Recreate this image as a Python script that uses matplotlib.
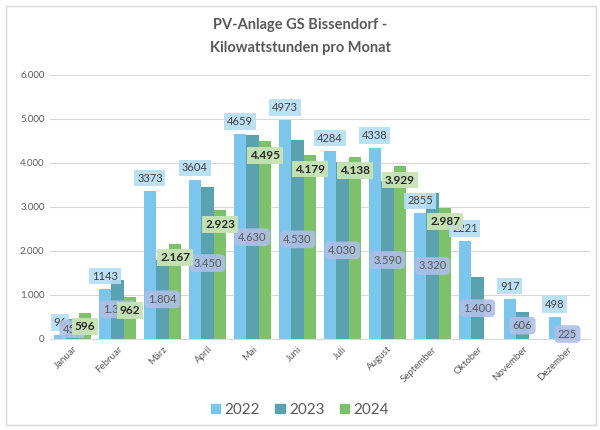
import matplotlib
matplotlib.use("Agg")
import matplotlib.pyplot as plt
import numpy as np
from matplotlib.patches import Rectangle, Patch

plt.rcParams['font.family'] = ['Lato', 'DejaVu Sans']

months = ['Januar', 'Februar', 'März', 'April', 'Mai', 'Juni', 'Juli',
          'August', 'September', 'Oktober', 'November', 'Dezember']
y2022 = [96, 1143, 3373, 3604, 4659, 4973, 4284, 4338, 2855, 2221, 917, 498]
y2023 = [450, 1350, 1804, 3450, 4630, 4530, 4030, 3590, 3320, 1400, 606, 225]
y2024 = [596, 962, 2167, 2923, 4495, 4179, 4138, 3929, 2987, None, None, None]
yticks = [0, 1000, 2000, 3000, 4000, 5000, 6000]

c22 = '#7CC6EE'
c23 = '#5BA2B0'
c24 = '#7DC16B'
grey = '#595959'


def de(v):
    # german thousands separator
    return f'{v:,}'.replace(',', '.')


fig = plt.figure(figsize=(6, 4.3), dpi=100)
ax = fig.add_axes([50 / 600, 1 - 339 / 430, 540 / 600, 264 / 430])

# chart border
fig.patches.append(Rectangle((6 / 600, 5 / 430), 590 / 600, 419 / 430,
                             transform=fig.transFigure, fill=False,
                             edgecolor='#D9D9D9', lw=1))

x = np.arange(len(months))
w = 0.28
ax.bar(x - w, y2022, w, color=c22, zorder=2)
ax.bar(x, y2023, w, color=c23, zorder=2)
v24 = [v if v is not None else 0 for v in y2024]
ax.bar(x + w, v24, w, color=c24, zorder=2)

ax.set_xlim(-0.5, len(months) - 0.5)
ax.set_ylim(0, 6000)
ax.set_yticks(yticks)
ax.set_yticklabels([de(t) for t in yticks], color=grey, fontsize=7)
ax.set_xticks(x)
ax.set_xticklabels(months, rotation=45, ha='right', rotation_mode='anchor',
                   color=grey, fontsize=7)
ax.tick_params(axis='both', length=0, pad=4)
ax.grid(axis='y', color='#D9D9D9', lw=0.8, zorder=0)
for s in ['top', 'right', 'left']:
    ax.spines[s].set_visible(False)
ax.spines['bottom'].set_color('#D9D9D9')

# data labels: 2022 outside end, 2023 centered, 2024 inside end
for i, v in enumerate(y2022):
    ax.annotate(str(v), (x[i] - w, v), xytext=(0, 9), textcoords='offset points',
                ha='center', va='center', fontsize=8, color='#404040', zorder=5,
                bbox=dict(boxstyle='square,pad=0.25', fc='#B5DDF5', ec='none', alpha=0.9))
for i, v in enumerate(y2023):
    ax.annotate(de(v), (x[i], v / 2), ha='center', va='center', fontsize=8,
                color=grey, zorder=6,
                bbox=dict(boxstyle='round,pad=0.3,rounding_size=0.4', fc='#AFBFE6',
                          ec='none', alpha=0.9))
for i, v in enumerate(y2024):
    if v is None:
        continue
    ax.annotate(de(v), (x[i] + w, v), xytext=(0, -10), textcoords='offset points',
                ha='center', va='center', fontsize=8.5, color='#262626', zorder=7,
                fontweight='bold',
                bbox=dict(boxstyle='square,pad=0.25', fc='#C6E3B4', ec='none', alpha=0.95))

fig.text(0.5, 1 - 25 / 430, 'PV-Anlage GS Bissendorf -', ha='center', va='center',
         fontsize=10.5, fontweight='bold', color=grey)
fig.text(0.5, 1 - 48 / 430, 'Kilowattstunden pro Monat', ha='center', va='center',
         fontsize=10.5, fontweight='bold', color=grey)

handles = [Patch(color=c22, label='2022'), Patch(color=c23, label='2023'),
           Patch(color=c24, label='2024')]
leg = fig.legend(handles=handles, loc='center', bbox_to_anchor=(0.5, 1 - 410 / 430),
                 ncol=3, frameon=False, fontsize=11, handlelength=0.6,
                 handleheight=0.6, handletextpad=0.3, columnspacing=1.0)
for t in leg.get_texts():
    t.set_color(grey)

fig.savefig('out.png', dpi=100)
